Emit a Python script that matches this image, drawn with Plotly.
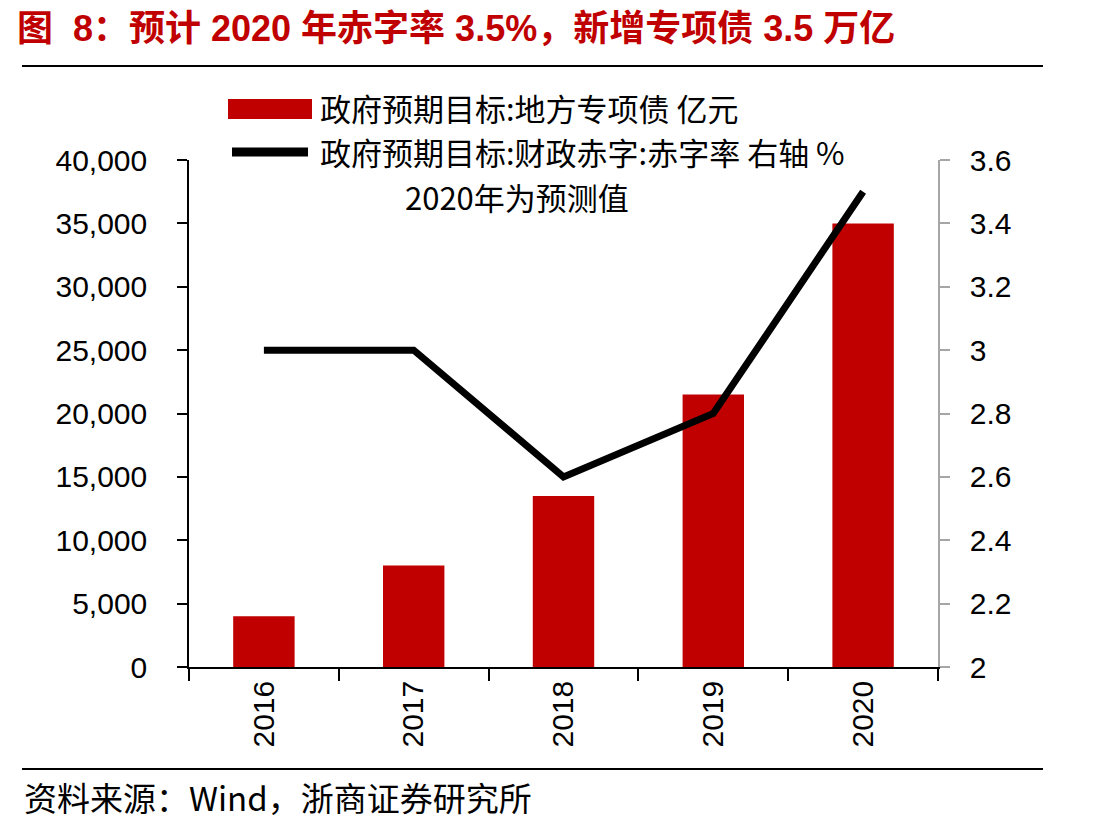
import plotly.graph_objects as go

years = ["2016", "2017", "2018", "2019", "2020"]
special_bonds = [4000, 8000, 13500, 21500, 35000]  # 亿元
deficit_rate = [3.0, 3.0, 2.6, 2.8, 3.5]  # %

bar_name = "政府预期目标:地方专项债 亿元"
line_name = "政府预期目标:财政赤字:赤字率 右轴 %"
title_text = "图  8：预计 2020 年赤字率 3.5%，新增专项债 3.5 万亿"
note_text = "2020年为预测值"
source_text = "资料来源：Wind，浙商证券研究所"

W, H = 1100, 827
L, R, T, B = 189, 938, 160, 667

def px(x):
    return (x - L) / (R - L)

def py(y):
    return (B - y) / (B - T)

RED = "#C00000"
CJK = "Noto Sans CJK SC"
LAT = "Liberation Sans, Arial, sans-serif"

fig = go.Figure()
fig.add_trace(go.Bar(x=years, y=special_bonds, name=bar_name, marker=dict(color=RED, line=dict(width=0)),
                     width=0.41, yaxis="y"))
fig.add_trace(go.Scatter(x=years, y=deficit_rate, name=line_name, mode="lines",
                         line=dict(color="black", width=7), yaxis="y2"))

fig.update_layout(
    width=W, height=H,
    margin=dict(l=L, r=W - R, t=T, b=H - B),
    paper_bgcolor="white", plot_bgcolor="white",
    showlegend=False,
    xaxis=dict(type="category", range=[-0.5, 4.5], showline=True, linecolor="black", linewidth=1.5,
               ticks="outside", tickson="boundaries", ticklen=12, tickcolor="black", tickwidth=1.5,
               tickangle=-90, tickfont=dict(family=LAT, size=30, color="black"), showgrid=False),
    yaxis=dict(range=[0, 40000], dtick=5000, tickformat=",", showline=True, linecolor="black", linewidth=1.5,
               ticks="outside", ticklen=10, tickcolor="black", tickwidth=1.5, showgrid=False, zeroline=False,
               tickfont=dict(family=LAT, size=30, color="black"), ticklabelstandoff=24),
    yaxis2=dict(range=[2, 3.6], dtick=0.2, overlaying="y", side="right", showline=True, linecolor="#A6A6A6",
                linewidth=1.5, ticks="outside", ticklen=10, tickcolor="#A6A6A6", tickwidth=1.5,
                showgrid=False, zeroline=False, tickfont=dict(family=LAT, size=30, color="black"),
                ticklabelstandoff=14),
)

shapes = [
    dict(type="line", xref="paper", yref="paper", x0=px(22), x1=px(1043), y0=py(66), y1=py(66),
         line=dict(color="black", width=2)),
    dict(type="line", xref="paper", yref="paper", x0=px(22), x1=px(1043), y0=py(769), y1=py(769),
         line=dict(color="black", width=2)),
    dict(type="rect", xref="paper", yref="paper", x0=px(228), x1=px(312), y0=py(119), y1=py(99),
         fillcolor=RED, line=dict(width=0)),
    dict(type="line", xref="paper", yref="paper", x0=px(232), x1=px(308), y0=py(152), y1=py(152),
         line=dict(color="black", width=9)),
]
fig.update_layout(shapes=shapes)

annotations = [
    dict(text=f"<b>{title_text}</b>", xref="paper", yref="paper", x=px(15), y=py(28), xanchor="left",
         yanchor="middle", showarrow=False, font=dict(family=f"{LAT}, {CJK}", size=36, color=RED)),
    dict(text=bar_name, xref="paper", yref="paper", x=px(318), y=py(108), xanchor="left", yanchor="middle",
         showarrow=False, font=dict(family=CJK, size=31, color="black")),
    dict(text=line_name, xref="paper", yref="paper", x=px(318), y=py(152), xanchor="left", yanchor="middle",
         showarrow=False, font=dict(family=CJK, size=31, color="black")),
    dict(text=note_text, xref="paper", yref="paper", x=px(517), y=py(196), xanchor="center", yanchor="middle",
         showarrow=False, font=dict(family=CJK, size=31, color="black")),
    dict(text=source_text, xref="paper", yref="paper", x=px(22), y=py(797), xanchor="left", yanchor="middle",
         showarrow=False, font=dict(family=CJK, size=33, color="black")),
]
fig.update_layout(annotations=annotations)

fig.write_html("out.html")
